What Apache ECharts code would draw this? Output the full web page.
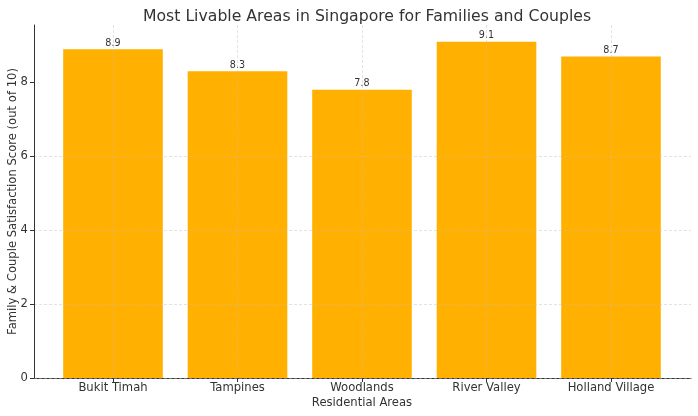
<!DOCTYPE html>
<html>
<head>
<meta charset="utf-8">
<script src="https://cdn.jsdelivr.net/npm/echarts@6/dist/echarts.min.js"></script>
<style>html,body{margin:0;padding:0;background:#fff;}#c{width:698px;height:416px;}</style>
</head>
<body>
<div id="c"></div>
<script>
const categories = ['Bukit Timah', 'Tampines', 'Woodlands', 'River Valley', 'Holland Village'];
const scores = [8.9, 8.3, 7.8, 9.1, 8.7];
const yTicks = [0, 2, 4, 6, 8];

const FONT = 'DejaVu Sans';
const yMax = 9.555;
const gridLine = { color: 'rgba(190,190,190,0.55)', type: [3, 2], width: 0.8 };
const chart = echarts.init(document.getElementById('c'));
chart.setOption({
  animation: false,
  textStyle: { fontFamily: FONT },
  title: {
    text: 'Most Livable Areas in Singapore for Families and Couples',
    left: 362, top: 4, textAlign: 'center',
    textStyle: { fontFamily: FONT, fontSize: 15.7, fontWeight: 'normal', color: '#333' }
  },
  grid: [
    { left: 113, right: 87, top: 25, bottom: 38, outerBoundsMode: 'none', containLabel: false },
    { left: 34, right: 7, top: 25, bottom: 38, outerBoundsMode: 'none', containLabel: false }
  ],
  xAxis: [
    {
      gridIndex: 0, type: 'category', data: categories, boundaryGap: false,
      axisLine: { show: false },
      axisTick: { show: true, length: 4, lineStyle: { color: '#333' } },
      axisLabel: { fontFamily: FONT, fontSize: 11.6, color: '#333', margin: 4 },
      splitLine: { show: true, lineStyle: gridLine },
      name: 'Residential Areas', nameLocation: 'middle', nameGap: 18.5, nameMoveOverlap: false,
      nameTextStyle: { fontFamily: FONT, fontSize: 11.6, color: '#333' },
      z: 3
    },
    {
      gridIndex: 1, type: 'value', min: 0, max: 1,
      axisLine: { show: true, lineStyle: { color: '#333', width: 1 } },
      axisTick: { show: false }, axisLabel: { show: false }, splitLine: { show: false }
    }
  ],
  yAxis: [
    {
      gridIndex: 0, type: 'value', min: 0, max: yMax, show: false
    },
    {
      gridIndex: 1, type: 'value', min: 0, max: yMax, interval: 2,
      axisLine: { show: true, lineStyle: { color: '#333', width: 1 } },
      axisTick: { show: true, length: 4, lineStyle: { color: '#333' }, customValues: yTicks },
      axisLabel: {
        fontFamily: FONT, fontSize: 11.6, color: '#333', margin: 6, customValues: yTicks,
        formatter: v => String(v)
      },
      splitLine: { show: true, showMaxLine: false, lineStyle: gridLine },
      name: 'Family & Couple Satisfaction Score (out of 10)', nameLocation: 'middle', nameGap: 15,
      nameMoveOverlap: false,
      nameTextStyle: { fontFamily: FONT, fontSize: 11.6, color: '#333' },
      z: 3
    }
  ],
  series: [{
    type: 'bar', xAxisIndex: 0, yAxisIndex: 0, data: scores,
    barWidth: '80%', clip: false,
    itemStyle: { color: '#FFB000' },
    label: { show: true, position: 'top', distance: 1, fontFamily: FONT, fontSize: 9.6, color: '#333',
      formatter: p => p.value.toFixed(1) },
    z: 2
  }]
});
</script>
</body>
</html>
